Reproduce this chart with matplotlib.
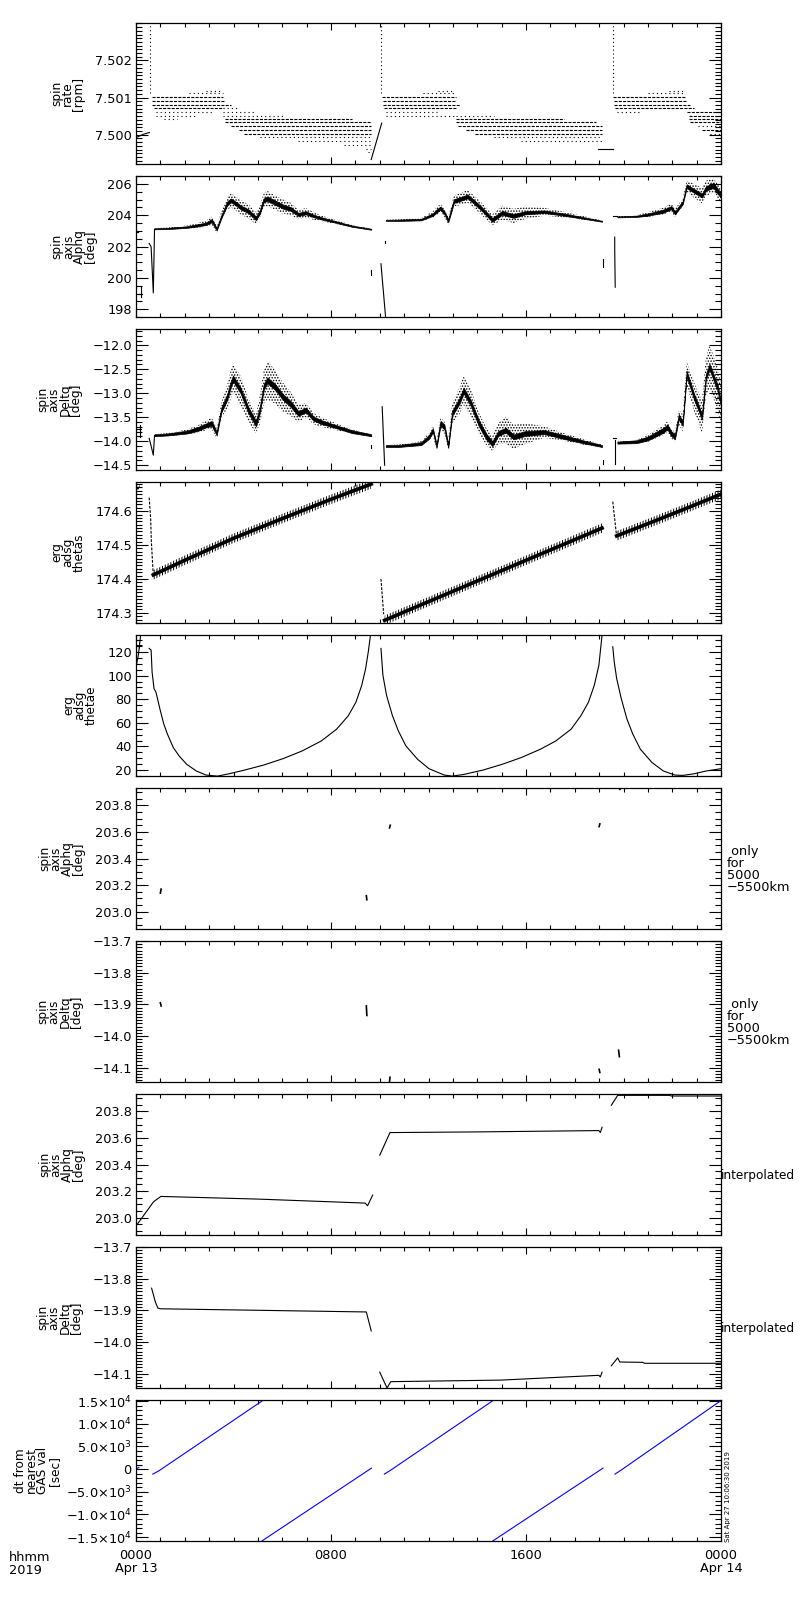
import numpy as np
import matplotlib
matplotlib.use('Agg')
import matplotlib.pyplot as plt
from matplotlib.ticker import MultipleLocator, FixedLocator

plt.rcParams['font.family'] = ['DejaVu Sans']
plt.rcParams['mathtext.fontset'] = 'dejavusans'
plt.rcParams['lines.scale_dashes'] = False
plt.rcParams['hatch.linewidth'] = 0.7

# time axis in hours from 0000 Apr 13
# ---- panel 1: spin rate, quantized levels (level, t start, t end, style)
RATE_LEVELS = [7.501173, 7.501111, 7.501022, 7.500907, 7.500800, 7.500711, 7.500604, 7.500516, 7.500418,
               7.500711, 7.500604, 7.500516, 7.500418, 7.500329, 7.500222, 7.500133, 7.500027, 7.499929,
               7.499822, 7.499716, 7.499618, 7.499529,
               7.501173, 7.501111, 7.501022, 7.500907, 7.500800, 7.500711, 7.500604, 7.500516,
               7.500516, 7.500418, 7.500329, 7.500222, 7.500133, 7.500027, 7.499929, 7.499822,
               7.501173, 7.501111, 7.501022, 7.500907, 7.500800, 7.500711, 7.500604, 7.500604,
               7.500516, 7.500418, 7.500329, 7.500222, 7.500133, 7.500027]
RATE_T0 = [2.87, 2.16, 0.66, 0.66, 0.66, 0.74, 0.82, 0.82, 1.14,
           3.58, 3.58, 3.58, 3.66, 3.66, 3.90, 4.21, 4.45, 5.08,
           6.66, 8.55, 9.42, 9.50,
           12.41, 11.78, 10.08, 10.13, 10.13, 10.17, 10.25, 10.25,
           13.12, 13.12, 13.12, 13.20, 13.52, 13.91, 14.70, 15.80,
           21.88, 21.01, 19.56, 19.59, 19.62, 19.67, 19.75, 22.59,
           22.67, 22.67, 22.74, 23.06, 23.22, 23.53]
RATE_T1 = [3.50, 3.58, 3.58, 3.66, 3.90, 3.58, 3.11, 2.48, 1.69,
           4.13, 4.92, 6.03, 8.86, 9.65, 9.65, 9.65, 9.65, 9.65,
           9.65, 9.65, 9.65, 9.65,
           13.04, 13.04, 13.12, 13.12, 13.28, 13.12, 12.33, 13.12,
           14.70, 17.54, 18.88, 19.12, 19.12, 19.12, 19.12, 19.12,
           22.43, 22.51, 22.51, 22.59, 22.74, 22.90, 20.69, 24.0,
           24.0, 24.0, 24.0, 24.0, 24.0, 24.0]
RATE_DENSE = [0, 0, 1, 1, 1, 1, 0, 0, 0,
              0, 0, 0, 1, 1, 1, 1, 1, 0,
              0, 0, 0, 0,
              0, 0, 1, 1, 1, 1, 0, 0,
              0, 1, 1, 1, 1, 1, 0, 0,
              0, 0, 1, 1, 1, 1, 0, 1,
              1, 1, 1, 0, 1, 0]
RATE_COLUMNS_T = [0.59, 10.06, 19.56]
RATE_COLUMN_LO = 7.50112
RATE_LINES = [([0.03, 0.30, 0.55], [7.49993, 7.50001, 7.50006]),
              ([9.65, 10.08], [7.49933, 7.50031]),
              ([18.96, 19.56], [7.499618, 7.499618])]

# ---- panel 2: spin axis alpha (centre, dense core half width, scatter half width)
ALPHA_T = [[0.76, 1.29, 2.08, 2.56, 2.87, 3.11, 3.31, 3.50, 3.74, 3.90, 4.13, 4.29, 4.61, 4.92, 5.08, 5.24, 5.39,
            5.71, 6.03, 6.34, 6.66, 6.97, 7.29, 7.60, 8.23, 8.86, 9.65],
           [10.25, 10.76, 11.70, 12.18, 12.33, 12.49, 12.65, 12.81, 13.04, 13.44, 13.60, 13.83, 14.15, 14.62, 15.02,
            15.49, 15.96, 16.75, 17.54, 18.33, 19.12],
           [19.75, 20.54, 21.01, 21.64, 21.96, 22.11, 22.43, 22.59, 22.90, 23.22, 23.38, 23.69, 24.0]]
ALPHA_C = [[203.13, 203.15, 203.24, 203.36, 203.45, 203.65, 203.10, 203.90, 204.75, 204.95, 204.70, 204.50, 204.25,
            203.80, 204.20, 204.95, 205.05, 204.80, 204.55, 204.40, 204.05, 204.15, 203.95, 203.80, 203.55, 203.30,
            203.10],
           [203.67, 203.67, 203.72, 204.04, 204.26, 204.45, 204.15, 203.65, 204.90, 205.10, 205.20, 204.90, 204.45,
            203.70, 204.15, 203.95, 204.15, 204.22, 204.04, 203.83, 203.61],
           [203.89, 203.93, 204.04, 204.26, 204.48, 204.15, 204.80, 205.85, 205.55, 205.25, 205.70, 205.90, 205.25]]
ALPHA_CORE = [[0.03, 0.04, 0.05, 0.07, 0.08, 0.10, 0.08, 0.10, 0.12, 0.12, 0.12, 0.12, 0.12, 0.12, 0.12, 0.12, 0.14,
               0.14, 0.13, 0.12, 0.10, 0.10, 0.08, 0.07, 0.05, 0.04, 0.03],
              [0.03, 0.04, 0.05, 0.08, 0.10, 0.10, 0.10, 0.10, 0.12, 0.12, 0.12, 0.12, 0.12, 0.12, 0.12, 0.12, 0.10,
               0.08, 0.07, 0.05, 0.03],
              [0.03, 0.04, 0.07, 0.10, 0.10, 0.10, 0.10, 0.12, 0.12, 0.12, 0.14, 0.16, 0.16]]
ALPHA_SPR = [[0.04, 0.06, 0.10, 0.15, 0.20, 0.25, 0.22, 0.30, 0.40, 0.45, 0.45, 0.45, 0.45, 0.40, 0.40, 0.45, 0.50,
              0.45, 0.45, 0.40, 0.30, 0.30, 0.25, 0.18, 0.12, 0.07, 0.04],
             [0.04, 0.06, 0.10, 0.20, 0.25, 0.25, 0.25, 0.25, 0.35, 0.40, 0.40, 0.40, 0.40, 0.35, 0.45, 0.45, 0.40,
              0.25, 0.18, 0.12, 0.05],
             [0.04, 0.08, 0.15, 0.22, 0.25, 0.25, 0.25, 0.35, 0.45, 0.50, 0.50, 0.45, 0.45]]
ALPHA_SPIKES = [([0.0, 0.1], [202.95, 202.95]), ([0.19, 0.19], [199.5, 198.8]), ([0.12, 0.25], [198.95, 198.95]),
                ([0.54, 0.62, 0.71, 0.76], [202.2, 201.98, 199.04, 203.1]), ([9.65, 9.65], [200.5, 200.2]),
                ([10.05, 10.25], [200.9, 197.3]), ([10.22, 10.22], [202.35, 202.25]),
                ([19.15, 19.15], [201.2, 200.7]), ([19.56, 19.75], [203.93, 203.93]),
                ([19.64, 19.64, 19.66], [202.6, 201.8, 199.4])]

# ---- panel 3: spin axis delta
DELTA_T = [[0.76, 1.29, 2.08, 2.56, 2.87, 3.11, 3.31, 3.50, 3.74, 3.90, 3.98, 4.29, 4.61, 4.92, 5.08, 5.24, 5.39,
            5.71, 6.03, 6.34, 6.66, 6.97, 7.29, 7.60, 8.23, 8.86, 9.65],
           [10.25, 10.76, 11.70, 12.02, 12.18, 12.33, 12.49, 12.65, 12.81, 12.97, 13.28, 13.44, 13.75, 14.07, 14.38,
            14.62, 14.86, 15.17, 15.49, 15.96, 16.75, 17.54, 18.33, 19.12],
           [19.75, 20.54, 21.01, 21.64, 21.80, 21.96, 22.11, 22.27, 22.43, 22.59, 22.90, 23.22, 23.38, 23.53, 23.85,
            24.0]]
DELTA_C = [[-13.875, -13.86, -13.81, -13.74, -13.67, -13.63, -13.84, -13.35, -13.08, -12.80, -12.69, -12.94, -13.35,
            -13.63, -13.35, -12.87, -12.73, -12.87, -13.08, -13.22, -13.42, -13.35, -13.53, -13.60, -13.70, -13.80,
            -13.875],
           [-14.10, -14.10, -14.05, -13.91, -13.77, -14.10, -13.63, -13.70, -14.10, -13.42, -13.15, -12.94, -13.22,
            -13.63, -13.91, -14.05, -13.84, -13.77, -13.91, -13.84, -13.81, -13.91, -14.01, -14.10],
           [-14.03, -14.01, -13.94, -13.77, -13.70, -13.84, -13.91, -13.49, -13.63, -12.59, -13.08, -13.49, -12.66,
            -12.45, -12.87, -13.22]]
DELTA_CORE = [[0.02, 0.02, 0.03, 0.04, 0.04, 0.05, 0.04, 0.05, 0.06, 0.06, 0.06, 0.06, 0.06, 0.06, 0.06, 0.06, 0.06,
               0.06, 0.06, 0.06, 0.05, 0.05, 0.04, 0.04, 0.03, 0.03, 0.02],
              [0.02, 0.02, 0.03, 0.04, 0.04, 0.04, 0.05, 0.05, 0.04, 0.05, 0.06, 0.06, 0.06, 0.06, 0.06, 0.05, 0.05,
               0.05, 0.05, 0.05, 0.04, 0.04, 0.03, 0.02],
              [0.02, 0.03, 0.04, 0.05, 0.05, 0.05, 0.05, 0.05, 0.05, 0.06, 0.06, 0.06, 0.06, 0.06, 0.06, 0.06]]
DELTA_SPR = [[0.02, 0.03, 0.05, 0.08, 0.10, 0.12, 0.10, 0.15, 0.25, 0.30, 0.30, 0.30, 0.25, 0.20, 0.30, 0.35, 0.40,
              0.35, 0.30, 0.25, 0.18, 0.15, 0.12, 0.10, 0.07, 0.04, 0.02],
             [0.02, 0.03, 0.05, 0.08, 0.10, 0.08, 0.12, 0.12, 0.10, 0.20, 0.28, 0.30, 0.28, 0.22, 0.18, 0.15, 0.22,
              0.28, 0.25, 0.22, 0.12, 0.08, 0.06, 0.03],
             [0.02, 0.04, 0.07, 0.10, 0.12, 0.10, 0.10, 0.15, 0.18, 0.25, 0.30, 0.35, 0.40, 0.45, 0.45, 0.40]]
DELTA_SPIKES = [([0.0, 0.2], [-13.74, -13.74]), ([0.16, 0.16], [-13.67, -13.91]),
                ([0.54, 0.63, 0.71, 0.76], [-13.94, -14.12, -14.29, -13.88]), ([9.65, 9.65], [-14.08, -14.15]),
                ([10.1, 10.2], [-13.28, -14.5]), ([19.15, 19.15], [-14.40, -14.47]),
                ([19.56, 19.70], [-13.94, -13.94]), ([19.64, 19.64], [-13.98, -14.47])]

# ---- panel 4: erg adsg thetas
THETAS_T = [[0.71, 2.0, 4.0, 6.0, 8.0, 9.65], [10.2, 12.0, 14.0, 16.0, 18.0, 19.12], [19.72, 21.0, 22.5, 24.0]]
THETAS_V = [[174.412, 174.455, 174.52, 174.578, 174.635, 174.68],
            [174.278, 174.333, 174.394, 174.455, 174.516, 174.55],
            [174.527, 174.563, 174.606, 174.65]]
THETAS_HW = 0.014
THETAS_SPIKES = [([0.0, 0.08, 0.15], [174.68, 174.665, 174.675]),
                 ([0.54, 0.60, 0.63, 0.71], [174.64, 174.58, 174.51, 174.41]),
                 ([10.05, 10.16], [174.40, 174.296]), ([19.56, 19.72], [174.628, 174.524])]

# ---- panel 5: erg adsg thetae
THETAE_T = [[0.0, 0.1, 0.2],
            [0.54, 0.62, 0.66, 0.74, 0.82, 0.98, 1.14, 1.29, 1.53, 1.77, 2.08, 2.48, 2.87, 3.34, 3.82, 4.45, 5.24,
             6.03, 6.81, 7.60, 8.23, 8.71, 9.02, 9.26, 9.42, 9.53, 9.62, 9.65],
            [10.05, 10.13, 10.28, 10.52, 10.76, 11.07, 11.55, 12.02, 12.65, 12.97, 13.44, 14.23, 15.02, 15.80, 16.59,
             17.22, 17.85, 18.25, 18.56, 18.80, 18.99, 19.12, 19.14],
            [19.56, 19.62, 19.72, 19.91, 20.14, 20.38, 20.69, 21.17, 21.64, 22.11, 22.43, 22.90, 23.38, 24.0]]
THETAE_V = [[107.0, 118.0, 136.0],
            [123.1, 121.7, 103.1, 88.9, 86.0, 71.8, 59.0, 50.4, 39.0, 31.9, 24.8, 19.1, 15.7, 14.8, 16.8, 19.9, 24.2,
             29.6, 36.1, 44.6, 54.6, 66.0, 77.4, 91.7, 105.9, 120.2, 134.4, 140.0],
            [123.1, 100.3, 83.2, 66.1, 53.3, 40.5, 29.1, 21.1, 15.7, 14.8, 16.2, 19.9, 24.8, 30.5, 37.6, 44.6, 54.6,
             66.0, 77.4, 91.7, 108.8, 134.4, 140.0],
            [124.5, 111.7, 97.5, 80.4, 63.3, 50.5, 37.7, 26.3, 19.1, 15.7, 15.4, 16.8, 19.1, 21.1]]

# ---- panels 6/7: only for 5000-5500 km (short strokes)
ALPHA_ONLY = [([1.00, 1.03], [203.14, 203.17]), ([9.45, 9.47], [203.12, 203.09]),
              ([10.40, 10.43], [203.63, 203.65]), ([19.00, 19.03], [203.64, 203.66]),
              ([19.80, 19.85], [203.93, 203.92])]
DELTA_ONLY = [([1.00, 1.03], [-13.895, -13.905]), ([9.45, 9.47], [-13.905, -13.935]),
              ([10.40, 10.42], [-14.145, -14.13]), ([19.00, 19.03], [-14.105, -14.115]),
              ([19.80, 19.83], [-14.045, -14.065])]

# ---- panels 8/9: interpolated
ALPHA_INTERP = [([0.05, 0.72, 1.02, 5.0, 9.40, 9.50, 9.71], [202.95, 203.12, 203.16, 203.14, 203.11, 203.09, 203.17]),
                ([10.0, 10.42, 14.0, 18.99, 19.05, 19.12], [203.47, 203.64, 203.645, 203.655, 203.64, 203.68]),
                ([19.50, 19.76, 21.90, 21.95, 24.0], [203.845, 203.92, 203.92, 203.915, 203.915])]
DELTA_INTERP = [([0.64, 0.80, 0.90, 1.00, 9.45, 9.65], [-13.83, -13.875, -13.893, -13.895, -13.905, -13.965]),
                ([10.0, 10.30, 10.45, 15.0, 18.99, 19.05, 19.12],
                 [-14.095, -14.145, -14.125, -14.12, -14.105, -14.11, -14.095]),
                ([19.50, 19.76, 19.85, 20.80, 20.85, 24.0], [-14.075, -14.05, -14.063, -14.064, -14.067, -14.067])]

# ---- panel 10: dt from nearest GAS val
DT_LINES = [([0.0, 0.12], [0.0, 400.0]),
            ([0.69, 0.94, 5.30], [-1100.0, -366.0, 15500.0]),
            ([5.15, 9.66], [-15900.0, 220.0]),
            ([10.19, 10.45, 14.75], [-1100.0, -220.0, 15500.0]),
            ([14.62, 19.16], [-15900.0, 220.0]),
            ([19.65, 19.90, 24.1], [-1100.0, -220.0, 15500.0])]

# axes settings
YLABELS = ['spin\nrate\n[rpm]', 'spin\naxis\nAlphq\n[deg]', 'spin\naxis\nDeltq\n[deg]', 'erg\nadsg\nthetas',
           'erg\nadsg\nthetae', 'spin\naxis\nAlphq\n[deg]', 'spin\naxis\nDeltq\n[deg]', 'spin\naxis\nAlphq\n[deg]',
           'spin\naxis\nDeltq\n[deg]', 'dt from\nnearest\nGAS val\n[sec]']
YLIMS = [(7.49921, 7.50301), (197.5, 206.5), (-14.6, -11.66), (174.27, 174.686), (14.9, 134.5),
         (202.87, 203.93), (-14.145, -13.70), (202.87, 203.93), (-14.145, -13.70), (-15850.0, 15250.0)]
YTICKS = [[7.500, 7.501, 7.502], [198, 200, 202, 204, 206], [-14.5, -14.0, -13.5, -13.0, -12.5, -12.0],
          [174.3, 174.4, 174.5, 174.6], [20, 40, 60, 80, 100, 120], [203.0, 203.2, 203.4, 203.6, 203.8],
          [-14.1, -14.0, -13.9, -13.8, -13.7], [203.0, 203.2, 203.4, 203.6, 203.8],
          [-14.1, -14.0, -13.9, -13.8, -13.7], [-15000, -10000, -5000, 0, 5000, 10000, 15000]]
YTICKLABELS = [['7.500', '7.501', '7.502'], ['198', '200', '202', '204', '206'],
               ['\u221214.5', '\u221214.0', '\u221213.5', '\u221213.0', '\u221212.5', '\u221212.0'],
               ['174.3', '174.4', '174.5', '174.6'], ['20', '40', '60', '80', '100', '120'],
               ['203.0', '203.2', '203.4', '203.6', '203.8'],
               ['\u221214.1', '\u221214.0', '\u221213.9', '\u221213.8', '\u221213.7'],
               ['203.0', '203.2', '203.4', '203.6', '203.8'],
               ['\u221214.1', '\u221214.0', '\u221213.9', '\u221213.8', '\u221213.7'],
               ['\u22121.5\u00d710$^{4}$', '\u22121.0\u00d710$^{4}$', '\u22125.0\u00d710$^{3}$', '0',
                '5.0\u00d710$^{3}$', '1.0\u00d710$^{4}$', '1.5\u00d710$^{4}$']]
YMINOR = [0.0001, 0.5, 0.1, 0.01, 5, 0.05, 0.01, 0.05, 0.01, 1000]
RIGHT_NOTES = ['', '', '', '', '', ' only\nfor\n5000\n\u22125500km', ' only\nfor\n5000\n\u22125500km',
               'interpolated', 'interpolated', '']
XTICKS = [0, 8, 16, 24]
XTICKLABELS = ['0000\nApr 13', '0800', '1600', '0000\nApr 14']

FS = 9.3
LW = 0.8

fig = plt.figure(figsize=(8, 16), dpi=100)
axes = []
for i in range(10):
    top = 23 + 153 * i
    ax = fig.add_axes([136 / 800, 1 - (top + 141) / 1600, 585 / 800, 141 / 1600])
    ax.set_xlim(0, 24)
    ax.set_ylim(*YLIMS[i])
    ax.xaxis.set_major_locator(FixedLocator(XTICKS))
    ax.xaxis.set_minor_locator(MultipleLocator(1))
    ax.set_yticks(YTICKS[i])
    ax.set_yticklabels(YTICKLABELS[i], fontsize=FS)
    ax.yaxis.set_minor_locator(MultipleLocator(YMINOR[i]))
    ax.tick_params(which='both', direction='in', top=True, right=True, width=0.8, pad=3)
    ax.tick_params(axis='y', which='major', length=8.5)
    ax.tick_params(axis='y', which='minor', length=4.3)
    ax.tick_params(axis='x', which='major', length=5)
    ax.tick_params(axis='x', which='minor', length=3)
    for s in ax.spines.values():
        s.set_linewidth(0.9)
    ax.set_ylabel(YLABELS[i], fontsize=8.7, linespacing=0.82, labelpad=7 if i < 9 else 4)
    if i < 9:
        ax.set_xticklabels([])
    else:
        ax.set_xticklabels(XTICKLABELS, fontsize=FS)
        ax.tick_params(axis='x', which='major', pad=6)
        for lbl in ax.get_xticklabels():
            lbl.set_linespacing(0.95)
    if RIGHT_NOTES[i] == 'interpolated':
        ax.text(0.999, 0.42, RIGHT_NOTES[i], transform=ax.transAxes, fontsize=8.7, ha='left', va='center')
    elif RIGHT_NOTES[i]:
        ax.text(1.01, 0.42, RIGHT_NOTES[i], transform=ax.transAxes, fontsize=FS, ha='left', va='center',
                linespacing=0.9)
    axes.append(ax)

# panel 1
ax = axes[0]
for lev, t0, t1, d in zip(RATE_LEVELS, RATE_T0, RATE_T1, RATE_DENSE):
    ax.hlines(lev, t0, t1, color='black', linewidth=LW, linestyles=[(0, (2.2, 0.9))] if d else [(0, (0.8, 2.2))])
for tc in RATE_COLUMNS_T:
    ax.vlines(tc, RATE_COLUMN_LO, YLIMS[0][1], color='black', linewidth=LW, linestyles=[(0, (0.8, 2.0))])
for tt, vv in RATE_LINES:
    ax.plot(tt, vv, color='black', linewidth=LW)


def band(ax, t, c, core, spr):
    t = np.array(t)
    c = np.array(c)
    core = np.array(core)
    spr = np.array(spr)
    ax.fill_between(t, c - spr, c + spr, facecolor='none', edgecolor='black', hatch='......', linewidth=0)
    ax.fill_between(t, c - core, c + core, facecolor='black', edgecolor='black', linewidth=0.5)


for k in range(3):
    band(axes[1], ALPHA_T[k], ALPHA_C[k], ALPHA_CORE[k], ALPHA_SPR[k])
    band(axes[2], DELTA_T[k], DELTA_C[k], DELTA_CORE[k], DELTA_SPR[k])
for tt, vv in ALPHA_SPIKES:
    axes[1].plot(tt, vv, color='black', linewidth=LW)
for tt, vv in DELTA_SPIKES:
    axes[2].plot(tt, vv, color='black', linewidth=LW)

# panel 4
ax = axes[3]
for tt, vv in zip(THETAS_T, THETAS_V):
    tt = np.array(tt)
    vv = np.array(vv)
    ax.fill_between(tt, vv - THETAS_HW, vv + THETAS_HW, facecolor='none', edgecolor='black', hatch='||||||',
                    linewidth=0)
    ax.plot(tt, vv, color='black', linewidth=2.6)
for tt, vv in THETAS_SPIKES:
    ax.plot(tt, vv, color='black', linewidth=LW, linestyle=(0, (2, 1)))

# panel 5
for tt, vv in zip(THETAE_T, THETAE_V):
    axes[4].plot(tt, vv, color='black', linewidth=LW)
axes[4].plot([0.12], [126], marker='+', color='black', markersize=5, markeredgewidth=0.7)

# panels 6-9
for tt, vv in ALPHA_ONLY:
    axes[5].plot(tt, vv, color='black', linewidth=1.2)
for tt, vv in DELTA_ONLY:
    axes[6].plot(tt, vv, color='black', linewidth=1.2)
for tt, vv in ALPHA_INTERP:
    axes[7].plot(tt, vv, color='black', linewidth=LW)
for tt, vv in DELTA_INTERP:
    axes[8].plot(tt, vv, color='black', linewidth=LW)

# panel 10
for tt, vv in DT_LINES:
    axes[9].plot(tt, vv, color='blue', linewidth=LW)

fig.text(9 / 800, 1 - 1551 / 1600, 'hhmm\n2019', fontsize=FS, ha='left', va='top', linespacing=0.95)
fig.text(728 / 800, 1 - 1542 / 1600, 'Sat Apr 27 10:06:30 2019', fontsize=5, rotation=90,
         ha='center', va='bottom')

fig.savefig('out.png', dpi=100)
